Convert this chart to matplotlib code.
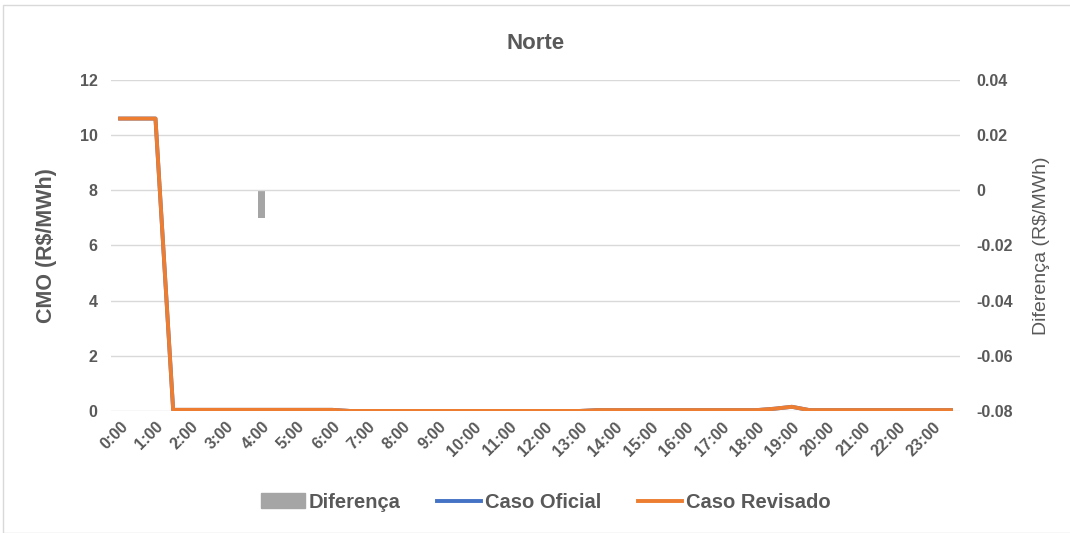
import matplotlib.pyplot as plt
from matplotlib.patches import Patch
from matplotlib.lines import Line2D

plt.rcParams['font.family'] = ['Liberation Sans', 'DejaVu Sans']

# half-hourly steps, labels on every full hour
horas = [f"{h}:{m:02d}" for h in range(24) for m in (0, 30)]
rotulos = [f"{h}:00" for h in range(24)]

caso_oficial = [10.6, 10.6, 10.6] + [0.04] * 10 + [0.0] * 14 + [0.03] * 10 + [0.08, 0.15] + [0.03] * 9
caso_revisado = list(caso_oficial)
diferenca = [0.0] * 48
diferenca[8] = -0.01

cinza = "#595959"

fig = plt.figure(figsize=(10.7, 5.33), dpi=100)
ax = fig.add_axes([0.104, 0.229, 0.793, 0.621])
ax2 = ax.twinx()

x = list(range(len(horas)))
ax2.bar(x, diferenca, width=0.4, color="#a5a5a5", zorder=1)
ax.plot(x, caso_oficial, color="#4472c4", lw=2.8, zorder=3)
ax.plot(x, caso_revisado, color="#ed7d31", lw=2.8, zorder=4)
ax.set_zorder(ax2.get_zorder() + 1)
ax.patch.set_visible(False)

ax.set_xlim(-0.5, 47.5)
ax.set_ylim(0, 12)
ax.set_yticks(range(0, 13, 2))
ax2.set_ylim(-0.08, 0.04)
ax2.set_yticks([-0.08, -0.06, -0.04, -0.02, 0, 0.02, 0.04])
ax2.set_yticklabels(["-0.08", "-0.06", "-0.04", "-0.02", "0", "0.02", "0.04"])

ax.set_xticks(x[::2])
ax.set_xticklabels(rotulos, rotation=45, ha="right", rotation_mode="anchor")
ax.grid(axis="y", color="#d9d9d9", lw=1)
ax.set_axisbelow(True)

for a in (ax, ax2):
    for s in a.spines.values():
        s.set_visible(False)
    a.tick_params(length=0, labelsize=11.5, labelcolor=cinza)
    for t in a.get_yticklabels() + a.get_xticklabels():
        t.set_fontweight("bold")
ax.tick_params(axis="y", pad=10)
ax.tick_params(axis="x", pad=6)
ax2.tick_params(axis="y", pad=12)

ax.set_ylabel("CMO (R$/MWh)", fontsize=15.5, fontweight="bold", color=cinza, labelpad=16)
ax2.set_ylabel("Diferença (R$/MWh)", fontsize=14, color=cinza, labelpad=14)
ax.set_title("Norte", fontsize=16, fontweight="bold", color=cinza, pad=22)

handles = [Patch(color="#a5a5a5"),
           Line2D([], [], color="#4472c4", lw=2.8),
           Line2D([], [], color="#ed7d31", lw=2.8)]
leg = fig.legend(handles, ["Diferença", "Caso Oficial", "Caso Revisado"], loc="center",
                 bbox_to_anchor=(0.51, 0.058), ncol=3, frameon=False, fontsize=14.5,
                 handlelength=2.2, handletextpad=0.2, columnspacing=1.8)
for t in leg.get_texts():
    t.set_color(cinza)
    t.set_fontweight("bold")

# chart border
fig.add_artist(plt.Rectangle((0.003, 0.0), 1.2, 0.99, transform=fig.transFigure,
                             fill=False, ec="#d9d9d9", lw=1))

fig.savefig("out.png", dpi=100)
